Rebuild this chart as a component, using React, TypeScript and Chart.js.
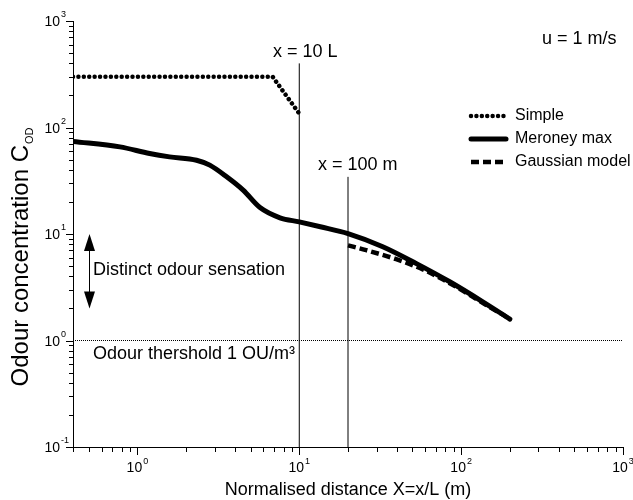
import React, { useEffect, useRef } from "react";
import { Chart, registerables } from "chart.js";

Chart.register(...registerables);

// ---- data ----
const simpleX = [0.4, 6.84, 10];
const simpleY = [300, 300, 135];

const meroneyX = [0.4, 0.78, 1.19, 1.58, 2.32, 2.8, 3.56, 4.5, 5.72, 7.6, 10, 13.5, 20, 32.8, 52.6, 85, 136, 200];
const meroneyY = [74, 65.8, 57, 53, 49.3, 44.3, 34.4, 25.8, 17.7, 14.2, 13.0, 11.7, 10.1, 7.6, 5.3, 3.56, 2.31, 1.59];

const gaussX = [20, 25.9, 39.7, 58, 77, 107, 150, 200];
const gaussY = [7.83, 7.05, 5.8, 4.65, 3.75, 2.82, 2.06, 1.6];

const seriesLabels = ["Simple", "Meroney max", "Gaussian model"];

const xDecades = [-1, 0, 1, 2, 3];
const yDecades = [-1, 0, 1, 2, 3];
const xRange = [0.4, 1000];
const yRange = [0.1, 1000];

// reference lines
const line10L = { x: 10, yTop: 400 };
const line100m = { x: 20, yTop: 34.4 };
const thresholdY = 1;
const arrowX = 0.5;
const arrowYTop = 10;
const arrowYBottom = 2;

const FONT = "'Liberation Sans', Arial, sans-serif";

const zip = (xs: number[], ys: number[]) => xs.map((x, i) => ({ x, y: ys[i] }));

const axesPlugin = {
  id: "axesDraw",
  afterDraw(chart: any) {
    const ctx: CanvasRenderingContext2D = chart.ctx;
    const xs = chart.scales.x;
    const ys = chart.scales.y;
    const left = Math.round(xs.getPixelForValue(xRange[0]));
    const right = Math.round(xs.getPixelForValue(xRange[1]));
    const top = Math.round(ys.getPixelForValue(yRange[1]));
    const bottom = Math.round(ys.getPixelForValue(yRange[0]));
    ctx.save();
    ctx.globalAlpha = 1;
    ctx.globalCompositeOperation = "source-over";
    ctx.fillStyle = "#000";
    ctx.fillRect(left, top, 1, bottom - top + 1);
    ctx.fillRect(left, bottom, right - left + 1, 1);
    for (const d of yDecades) {
      for (let m = 1; m <= 9; m++) {
        const v = m * Math.pow(10, d);
        if (v < yRange[0] * 0.999 || v > yRange[1] * 1.001) continue;
        const py = Math.round(ys.getPixelForValue(v));
        const len = m === 1 ? 7 : 4;
        ctx.fillRect(left - len, py, len, 1);
      }
    }
    for (const d of xDecades) {
      for (let m = 1; m <= 9; m++) {
        const v = m * Math.pow(10, d);
        if (v < xRange[0] * 0.999 || v > xRange[1] * 1.001) continue;
        const px = Math.round(xs.getPixelForValue(v));
        const len = m === 1 ? 7 : 4;
        ctx.fillRect(px, bottom, 1, len + 1);
      }
    }
    ctx.restore();
  },
};

const decorPlugin = {
  id: "decor",
  afterDraw(chart: any) {
    const ctx: CanvasRenderingContext2D = chart.ctx;
    const xs = chart.scales.x;
    const ys = chart.scales.y;
    const left = xs.getPixelForValue(xRange[0]);
    const right = xs.getPixelForValue(xRange[1]);
    ctx.save();
    ctx.strokeStyle = "#000";
    ctx.fillStyle = "#000";
    ctx.lineWidth = 1;

    // tick labels
    const baseFont = `14px ${FONT}`;
    const supFont = `9px ${FONT}`;
    for (const d of yDecades) {
      const v = Math.pow(10, d);
      if (v < yRange[0] * 0.999 || v > yRange[1] * 1.001) continue;
      const py = ys.getPixelForValue(v);
      ctx.font = baseFont;
      ctx.textAlign = "right";
      ctx.textBaseline = "alphabetic";
      ctx.fillText("10", 60, py + 5);
      ctx.font = supFont;
      ctx.textAlign = "left";
      ctx.fillText(String(d), 61, py - 4);
    }
    for (const d of xDecades) {
      const v = Math.pow(10, d);
      if (v < xRange[0] * 0.999 || v > xRange[1] * 1.001) continue;
      const px = xs.getPixelForValue(v);
      ctx.font = baseFont;
      const w1 = ctx.measureText("10").width;
      ctx.font = supFont;
      const w2 = ctx.measureText(String(d)).width;
      const start = px - (w1 + 1 + w2) / 2;
      ctx.textAlign = "left";
      ctx.textBaseline = "alphabetic";
      ctx.font = baseFont;
      ctx.fillText("10", start, 472);
      ctx.font = supFont;
      ctx.fillText(String(d), start + w1 + 1, 464);
    }

    // x title
    ctx.font = `18px ${FONT}`;
    ctx.textAlign = "center";
    ctx.fillText("Normalised distance X=x/L (m)", (left + right) / 2, 495);

    // y title (rotated)
    ctx.save();
    ctx.translate(28, 257);
    ctx.rotate(-Math.PI / 2);
    ctx.font = `24px ${FONT}`;
    const mainT = "Odour concentration C";
    const mw = ctx.measureText(mainT).width;
    ctx.font = `11px ${FONT}`;
    const sw = ctx.measureText("OD").width;
    const tot = mw + 1 + sw;
    ctx.textAlign = "left";
    ctx.font = `24px ${FONT}`;
    ctx.fillText(mainT, -tot / 2, 0);
    ctx.font = `11px ${FONT}`;
    ctx.fillText("OD", -tot / 2 + mw + 1, 5);
    ctx.restore();

    // annotations
    ctx.font = `18px ${FONT}`;
    ctx.textAlign = "left";
    ctx.textBaseline = "alphabetic";
    ctx.fillText("x = 10 L", 273, 57);
    ctx.fillText("x = 100 m", 318, 170);
    ctx.fillText("u = 1 m/s", 542, 44);
    ctx.fillText("Distinct odour sensation", 93, 275);
    ctx.fillText("Odour thershold 1 OU/m\u00b3", 93, 359);

    // double arrow
    const apx = Math.round(xs.getPixelForValue(arrowX)) + 0.5;
    const aTop = ys.getPixelForValue(arrowYTop);
    const aBot = ys.getPixelForValue(arrowYBottom);
    ctx.beginPath();
    ctx.moveTo(apx, aTop + 10);
    ctx.lineTo(apx, aBot - 10);
    ctx.stroke();
    ctx.beginPath();
    ctx.moveTo(apx, aTop);
    ctx.lineTo(apx - 5.5, aTop + 17);
    ctx.lineTo(apx + 5.5, aTop + 17);
    ctx.closePath();
    ctx.fill();
    ctx.beginPath();
    ctx.moveTo(apx, aBot);
    ctx.lineTo(apx - 5.5, aBot - 17);
    ctx.lineTo(apx + 5.5, aBot - 17);
    ctx.closePath();
    ctx.fill();

    // legend
    const items = chart.data.datasets.filter((ds: any) => ds.inLegend);
    items.forEach((ds: any, i: number) => {
      const cy = 116 + i * 23;
      ctx.save();
      ctx.strokeStyle = "#000";
      ctx.lineWidth = ds.borderWidth;
      ctx.lineCap = ds.borderCapStyle || "butt";
      ctx.setLineDash(ds.borderDash || []);
      ctx.beginPath();
      ctx.moveTo(471, cy);
      ctx.lineTo(506, cy);
      ctx.stroke();
      ctx.restore();
      ctx.font = `16px ${FONT}`;
      ctx.textAlign = "left";
      ctx.textBaseline = "middle";
      ctx.fillText(ds.label, 515, cy);
    });

    ctx.restore();
  },
};

export default function App() {
  const ref = useRef<HTMLCanvasElement>(null);

  useEffect(() => {
    document.body.style.margin = "0";
    const canvas = ref.current;
    if (!canvas) return;
    const chart = new Chart(canvas, {
      type: "line",
      data: {
        datasets: [
          {
            label: "x10L",
            data: [
              { x: line10L.x, y: yRange[0] },
              { x: line10L.x, y: line10L.yTop },
            ],
            borderColor: "#000",
            borderWidth: 1,
            pointRadius: 0,
          },
          {
            label: "x100m",
            data: [
              { x: line100m.x, y: yRange[0] },
              { x: line100m.x, y: line100m.yTop },
            ],
            borderColor: "#000",
            borderWidth: 1,
            pointRadius: 0,
          },
          {
            label: "threshold",
            data: [
              { x: xRange[0], y: thresholdY },
              { x: xRange[1], y: thresholdY },
            ],
            borderColor: "#000",
            borderWidth: 1,
            borderDash: [1, 1],
            pointRadius: 0,
          },
          {
            label: seriesLabels[0],
            data: zip(simpleX, simpleY),
            borderColor: "#000",
            borderWidth: 4.5,
            borderDash: [0.01, 5.4],
            borderCapStyle: "round",
            pointRadius: 0,
            inLegend: true,
          } as any,
          {
            label: seriesLabels[1],
            data: zip(meroneyX, meroneyY),
            borderColor: "#000",
            borderWidth: 5,
            cubicInterpolationMode: "monotone",
            borderCapStyle: "round",
            pointRadius: 0,
            inLegend: true,
          } as any,
          {
            label: seriesLabels[2],
            data: zip(gaussX, gaussY),
            borderColor: "#000",
            borderWidth: 4.5,
            borderDash: [8, 4],
            cubicInterpolationMode: "monotone",
            pointRadius: 0,
            inLegend: true,
          } as any,
        ],
      },
      options: {
        animation: false,
        responsive: false,
        maintainAspectRatio: false,
        layout: { padding: { left: 73, top: 21, right: 10, bottom: 53 } },
        plugins: { legend: { display: false }, tooltip: { enabled: false } },
        scales: {
          x: { type: "logarithmic", min: xRange[0], max: xRange[1], display: false },
          y: { type: "logarithmic", min: yRange[0], max: yRange[1], display: false },
        },
      },
      plugins: [axesPlugin, decorPlugin],
    });
    return () => chart.destroy();
  }, []);

  return (
    <div style={{ width: 633, height: 500, background: "#fff" }}>
      <canvas ref={ref} width={633} height={500} style={{ display: "block" }} />
    </div>
  );
}
